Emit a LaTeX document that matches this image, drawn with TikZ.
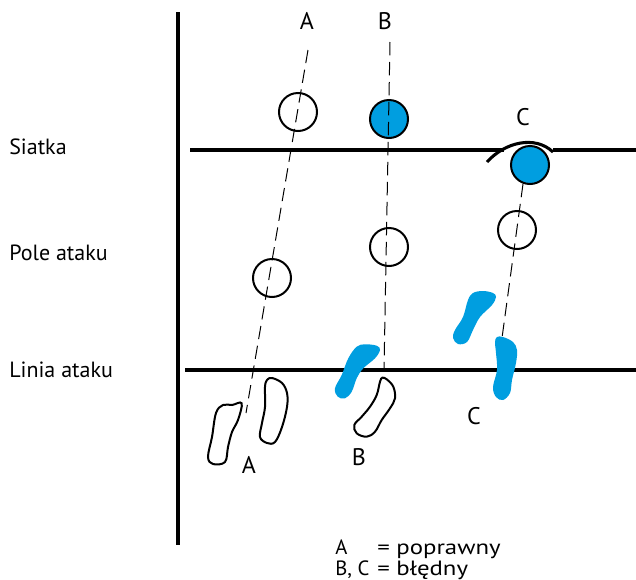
\documentclass[tikz,border=0pt]{standalone}
\usepackage{fontspec}
\setmainfont{PT Sans}
\newfontfamily\legwide[FakeStretch=1.2]{PT Sans}
\definecolor{ballblue}{RGB}{0,158,224}
\begin{document}
\begin{tikzpicture}[x=0.75pt,y=-0.75pt,
  post/.style={line width=3.4pt},
  netline/.style={line width=2.3pt},
  ball/.style={circle, draw, line width=1.5pt, minimum size=28.5pt, inner sep=0pt},
  blueball/.style={ball, fill=ballblue},
  traj/.style={dash pattern=on 10pt off 5pt, line width=0.75pt},
  lbl/.style={font=\fontsize{18}{20}\selectfont, anchor=base, inner sep=0pt},
  side/.style={font=\fontsize{16.5}{19}\selectfont, anchor=base west, inner sep=0pt},
  leg/.style={font=\fontsize{15.5}{17}\selectfont, anchor=base west, inner sep=0pt},
  legtext/.style={font=\legwide\fontsize{15.5}{17}\selectfont, anchor=base west, inner sep=0pt},
  wfoot/.style={draw, line width=1.5pt, fill=white},
  bfoot/.style={fill=ballblue}]
\useasboundingbox (0,0) rectangle (636,579);

% court lines
\draw[post] (178,12) -- (178,545);
\draw[netline] (190,150) -- (504,150);
\draw[netline] (553,150) -- (636,150);
\draw[netline] (185,370) -- (636,370);

% side labels
\node[side] (siatka) at (9,154) {Siatka};
\node[side] (pole) at (9,260) {Pole ataku};
\node[side] (linia) at (9,377) {Linia ataku};

% footprints A (white)
\draw[wfoot] plot[smooth cycle, tension=0.6] coordinates {(241.7,403.3) (232,405) (223,405) (216,413) (212,437) (208,457) (213,464) (225,462) (228,447) (232,432) (238,420)};
\draw[wfoot] plot[smooth cycle, tension=0.6] coordinates {(267,380) (272,378) (282,383) (287,393) (287,407) (282,427) (275,442) (267,443) (260,437) (262,423) (265,407) (265,387)};
% footprint B (white)
\draw[wfoot] plot[smooth cycle, tension=0.6] coordinates {(382.3,377.7) (386.7,379.3) (393.3,386.7) (395,398.3) (390,408.3) (381.7,420) (375,431.7) (366.7,436.7) (356.7,433.3) (354.3,425) (361.7,416.7) (370,406.7) (376.7,395) (380,381.7)};
% footprint B (blue)
\fill[bfoot] plot[smooth cycle, tension=0.6] coordinates {(356.7,346.7) (365,344.3) (376.7,345.7) (380,350) (375,358.3) (363.3,368.3) (356.7,378.3) (351.7,391.7) (345,398.3) (337.7,396.7) (335,388.3) (341.7,375) (348.3,358.3)};
% footprints C (blue)
\fill[bfoot] plot[smooth cycle, tension=0.6] coordinates {(473,293) (483,291) (493,293) (496,297) (492,305) (480,317) (473,330) (467,342) (458,344) (453,338) (455,330) (463,317) (468,300)};
\fill[bfoot] plot[smooth cycle, tension=0.6] coordinates {(497,337) (503,337) (513,342) (517,350) (516,363) (512,380) (510,393) (503,400) (496,397) (493,387) (497,370) (496,353) (495,342)};

% balls
\node[ball] (a1) at (298,112) {};
\node[ball] (a2) at (272,278) {};
\node[blueball] (b1) at (389,119) {};
\node[ball] (b2) at (389,247) {};
\node[blueball] (c1) at (530,165) {};
\node[ball] (c2) at (517,230) {};

% block arc over C
\coordinate (arcL) at (487,162);
\coordinate (arcR) at (553,152);
\draw[line width=2.3pt] (arcL) .. controls (505,142) and (535,135) .. (arcR);

% trajectories
\coordinate (aTop) at (308,50);
\coordinate (aBot) at (246,413);
\coordinate (bTop) at (390,42);
\coordinate (bBot) at (384,370);
\coordinate (cTop) at (523,184);
\coordinate (cBot) at (502,338);
\draw[traj] (aTop) -- (aBot);
\draw[traj] (bTop) -- (bBot);
\draw[traj] (cTop) -- (cBot);

% letters
\node[lbl] (lA) at (307,29) {A};
\node[lbl] (lB) at (385,29) {B};
\node[lbl] (lC) at (523,125) {C};
\node[lbl] (fA) at (249,473) {A};
\node[lbl] (fB) at (359,465) {B};
\node[lbl] (fC) at (474,424) {C};

% legend
\node[leg] (legA) at (335,554) {A};
\node[legtext] (legAt) at (377,554) {= poprawny};
\node[leg] (legBC) at (335,575) {B, C};
\node[legtext] (legBCt) at (377,575) {= błędny};
\end{tikzpicture}
\end{document}
